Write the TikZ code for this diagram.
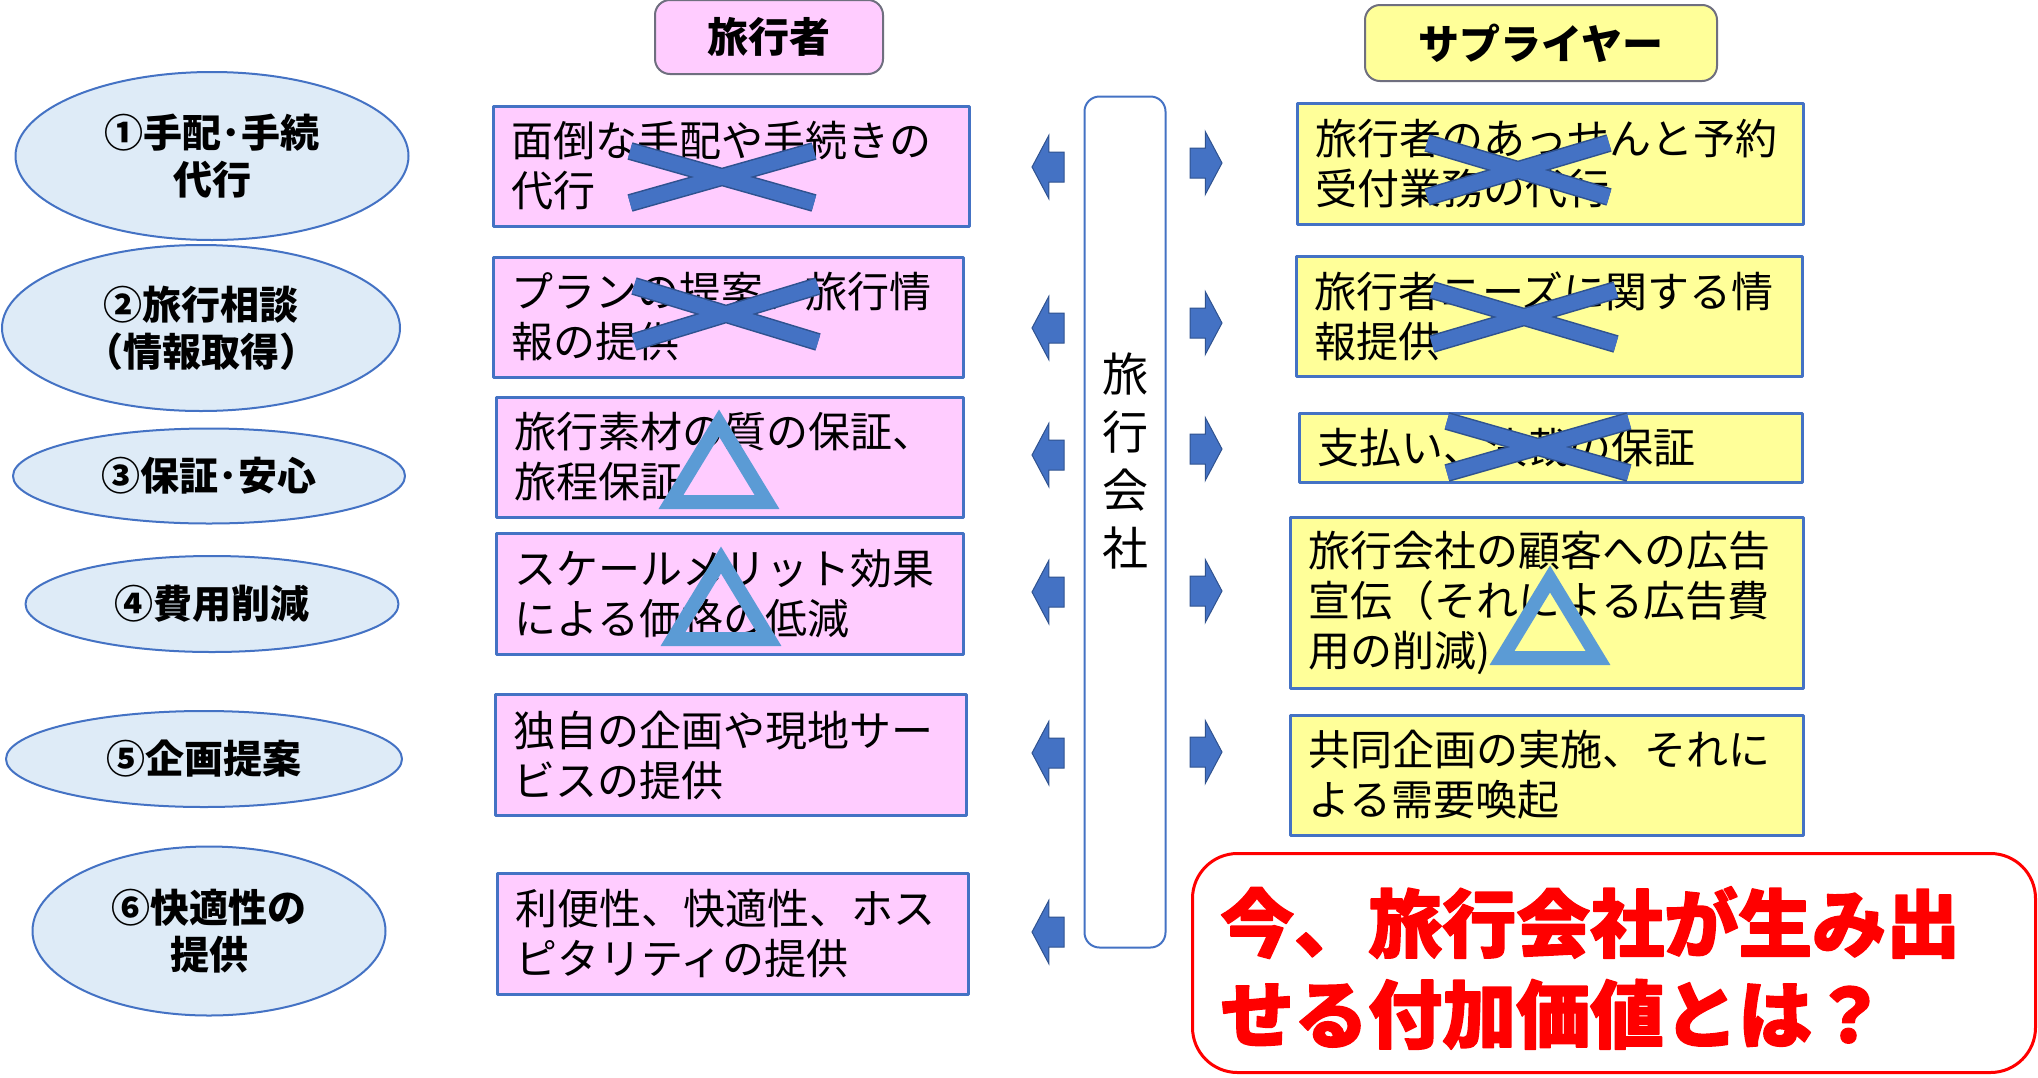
\documentclass[tikz,border=0pt]{standalone}
\usepackage{fontspec}
\setmainfont{Noto Sans CJK JP}
\newfontfamily\popfont[BoldFeatures={FakeBold=2}]{Noto Sans CJK JP}
\usetikzlibrary{shapes.geometric,shapes.arrows}
\definecolor{boxline}{HTML}{4472C4}
\definecolor{xedge}{HTML}{2F528F}
\definecolor{pinkfill}{HTML}{FFCCFF}
\definecolor{yellowfill}{HTML}{FFFF99}
\definecolor{ovalfill}{HTML}{DEEBF7}
\definecolor{trimark}{HTML}{5B9BD5}
\definecolor{headline}{HTML}{6F6F7F}
\begin{document}
\begin{tikzpicture}[x=1pt, y=-1pt, line join=round,
 pinkbox/.style={draw=boxline, line width=3pt, fill=pinkfill, align=left, inner xsep=18pt, inner ysep=0pt, font=\fontsize{42}{50}\selectfont},
 yellowbox/.style={pinkbox, fill=yellowfill},
 aspectoval/.style={ellipse, draw=boxline, line width=2pt, fill=ovalfill, inner sep=0pt, align=center, font=\fontsize{39}{47}\selectfont\bfseries},
 headbox/.style={rounded corners=15pt, draw=headline, line width=2pt, inner sep=0pt, font=\fontsize{41}{48}\selectfont\bfseries},
 larrow/.style={single arrow, shape border rotate=180, single arrow head extend=16.5pt, single arrow tip angle=124, minimum height=32pt, inner xsep=0pt, inner ysep=14.5pt, draw=xedge, line width=1pt, fill=boxline, line join=miter},
 rarrow/.style={larrow, shape border rotate=0},
 xbar/.style={line cap=butt, line join=miter},
 trimarkline/.style={draw=trimark, line width=14pt, line join=miter}]
 \path[use as bounding box, fill=white] (0,0) rectangle (2038,1077);
 \node[headbox, fill=pinkfill, minimum width=228pt, minimum height=74pt] (trav) at (769,37) {旅行者};
 \node[headbox, fill=yellowfill, minimum width=352pt, minimum height=76pt] (supp) at (1541,43) {サプライヤー};
 \node[aspectoval, minimum width=393pt, minimum height=168pt] (e1) at (212,156) {①手配･手続\\代行};
 \node[aspectoval, minimum width=398pt, minimum height=166pt] (e2) at (201,328) {②旅行相談\\（情報取得）};
 \node[aspectoval, minimum width=392pt, minimum height=95pt] (e3) at (209,476) {③保証･安心};
 \node[aspectoval, minimum width=373pt, minimum height=96pt] (e4) at (212,604) {④費用削減};
 \node[aspectoval, minimum width=396pt, minimum height=96pt] (e5) at (204,759) {⑤企画提案};
 \node[aspectoval, minimum width=353pt, minimum height=169pt] (e6) at (209,931) {⑥快適性の\\提供};
 \node[pinkbox, text width=440pt, minimum height=120pt] (p1) at (731,166) {面倒な手配や手続きの\\代行};
 \node[pinkbox, text width=434pt, minimum height=120pt] (p2) at (728,317) {プランの提案、旅行情\\報の提供};
 \node[pinkbox, text width=431pt, minimum height=120pt] (p3) at (730,457) {旅行素材の質の保証、\\旅程保証};
 \node[pinkbox, text width=431pt, minimum height=121pt] (p4) at (730,594) {スケールメリット効果\\による価格の低減};
 \node[pinkbox, text width=435pt, minimum height=121pt] (p5) at (731,755) {独自の企画や現地サー\\ビスの提供};
 \node[pinkbox, text width=435pt, minimum height=121pt] (p6) at (733,934) {利便性、快適性、ホス\\ピタリティの提供};
 \node[yellowbox, text width=470pt, minimum height=121pt] (y1) at (1550,164) {旅行者のあっせんと予約\\受付業務の代行};
 \node[yellowbox, text width=470pt, minimum height=120pt] (y2) at (1549,316) {旅行者ニーズに関する情\\報提供};
 \node[yellowbox, text width=467pt, minimum height=69pt] (y3) at (1551,448) {支払い、決裁の保証};
 \node[yellowbox, text width=477pt, minimum height=171pt] (y4) at (1547,603) {旅行会社の顧客への広告\\宣伝（それによる広告費\\用の削減)};
 \node[yellowbox, text width=477pt, minimum height=120pt] (y5) at (1547,775) {共同企画の実施、それに\\よる需要喚起};
 \node[draw=boxline, line width=2pt, rounded corners=15pt, fill=white, minimum width=81pt, minimum height=851pt] (agency) at (1125,522) {};
 \node[font=\fontsize{46}{58}\selectfont, align=center, inner sep=0pt] (agencyt) at (1125,461) {旅\\行\\会\\社};
 \foreach \y [count=\i] in {167,328,455,592,753,932} \node[larrow] (l\i) at (1052,\y) {};
 \foreach \y [count=\i] in {163,323,449,591,752} \node[rarrow] (r\i) at (1202,\y) {};
 \foreach \cx/\cy/\a/\b in {722/177/92/26, 726/314/92/28, 1518/170/91/27, 1524/317/92/27, 1538/447/91/26}{
  \draw[xbar, line width=18pt, draw=xedge] (\cx-\a,\cy-\b) -- (\cx+\a,\cy+\b) (\cx-\a,\cy+\b) -- (\cx+\a,\cy-\b);
  \draw[xbar, line width=15pt, draw=boxline] (\cx-\a,\cy-\b) -- (\cx+\a,\cy+\b) (\cx-\a,\cy+\b) -- (\cx+\a,\cy-\b);
 }
 \foreach \cx/\ty in {719/409, 721/546, 1550/565}
  \draw[trimarkline] (\cx,\ty+14) -- (\cx+48,\ty+93) -- (\cx-48,\ty+93) -- cycle;
 \node[draw=red, line width=3pt, rounded corners=45pt, fill=white, minimum width=843pt, minimum height=219pt] (quest) at (1614,963) {};
 \node[anchor=west, align=left, text=red, inner sep=0pt, font=\popfont\bfseries\fontsize{74}{91}\selectfont] (questt) at (1220,968) {今、旅行会社が生み出\\せる付加価値とは？};
\end{tikzpicture}
\end{document}
